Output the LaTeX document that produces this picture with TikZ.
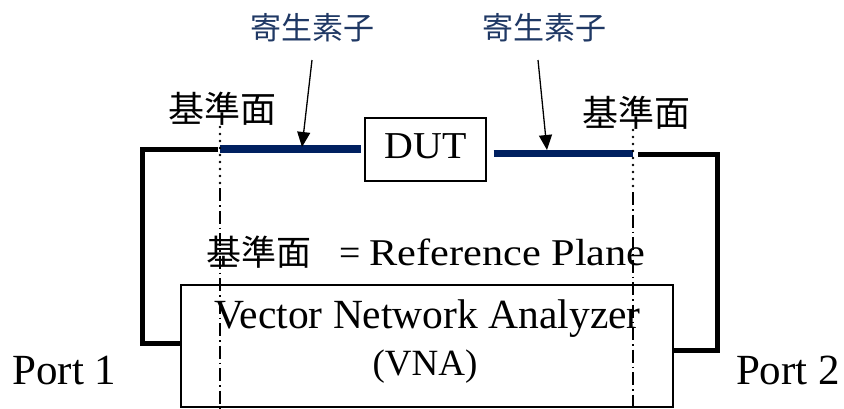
\documentclass[tikz,border=0pt]{standalone}
\usepackage{fontspec}
\setmainfont{Liberation Serif}
\newfontfamily\cjk{Noto Sans CJK JP}
\usetikzlibrary{arrows.meta}
\definecolor{navy}{HTML}{002060}
\definecolor{navytext}{HTML}{1F3864}
\newcommand{\fs}[1]{\fontsize{#1}{#1}\selectfont}
\begin{document}
\begin{tikzpicture}[x=1pt,y=-1pt,
  box/.style={draw=black,line width=1.3pt,rectangle,inner sep=0pt},
  cable/.style={line width=5pt,line join=miter,black},
  parasitic/.style={line width=7.5pt,navy},
  callout/.style={line width=1.3pt,-{Triangle[length=15pt,width=13pt]}},
  refdots/.style={line width=2.6pt,line cap=round,dash pattern=on 0pt off 7pt},
  refdash/.style={line width=1.6pt,dash pattern=on 13pt off 4pt on 1.5pt off 4pt},
  jplabel/.style={font=\cjk\fs{36},inner sep=0pt},
  partlabel/.style={font=\cjk\fs{31},text=navytext,inner sep=0pt},
  latin/.style={inner sep=0pt,anchor=base}]
\useasboundingbox (0,0) rectangle (844,408);

% device under test and analyser
\node[box,minimum width=121pt,minimum height=63pt,text depth=7pt,
      font=\fs{38}] (dut) at (425.5,149.5) {\scalebox{1.05}[1]{DUT}};
\node[box,minimum width=492pt,minimum height=122pt] (vna) at (427,346) {};
\node[latin,font=\fs{41.5}] (vnaname) at (427.5,328) {Vector Network Analyzer};
\node[latin,font=\fs{37}] (vnaabbr) at (425,375) {(VNA)};

% port labels
\node[latin,font=\fs{43}] (port1) at (64.5,384) {Port 1};
\node[latin,font=\fs{43}] (port2) at (788,384) {Port 2};

% reference plane labels
\node[jplabel] (refLlabel) at (222,108.5) {基準面};
\node[jplabel] (refRlabel) at (636.5,112.5) {基準面};
\node[latin,anchor=base west] (legend) at (206,265)
  {{\cjk\fs{35}基準面}\hspace{28pt}{\fs{37.8}=}\hspace{9pt}\scalebox{1.12}[1]{\fs{37.8}Reference Plane}};

% parasitic element labels
\node[partlabel] (parL) at (312,27.5) {寄生素子};
\node[partlabel] (parR) at (544.5,27.5) {寄生素子};

% reference plane positions
\coordinate (refLtop) at (220,127);
\coordinate (refLmid) at (220,188);
\coordinate (refLbot) at (220,408);
\coordinate (refRtop) at (633,130);
\coordinate (refRmid) at (633,192);
\coordinate (refRbot) at (633,408);
\coordinate (refL) at (220,149);
\coordinate (refR) at (633,153.5);

% cables from the ports to the reference planes
\draw[cable] ([yshift=3pt]vna.west) -- (142,343) -- (142,149) -- ([xshift=-2pt]refL);
\draw[cable] ([yshift=-4pt]vna.east) -- (717,350) -- (717,154) -- (638,154);

% parasitic sections between reference planes and DUT
\draw[parasitic] (refL) -- ([xshift=-3pt]refL -| dut.west);
\draw[parasitic] ([xshift=7pt]refR -| dut.east) -- (refR);

% callout arrows
\coordinate (arrL) at (312,60);
\coordinate (arrR) at (538,60);
\draw[callout] (arrL) -- (302,147);
\draw[callout] (arrR) -- (547,150);

% reference planes
\draw[refdots] (refLtop) -- (refLmid);
\draw[refdash] (refLmid) -- (refLbot);
\draw[refdots] (refRtop) -- (refRmid);
\draw[refdash] (refRmid) -- (refRbot);
\end{tikzpicture}
\end{document}
